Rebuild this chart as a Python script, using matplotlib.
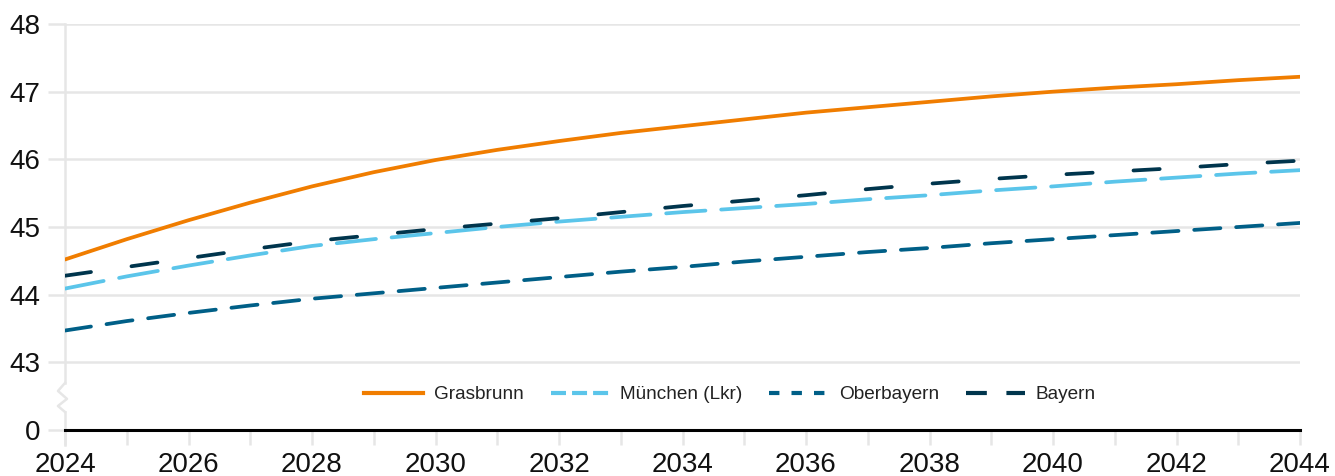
import matplotlib
matplotlib.use("Agg")
import matplotlib.pyplot as plt
from matplotlib.lines import Line2D
import numpy as np

years = list(range(2024, 2045))
grasbrunn = [44.52, 44.82, 45.10, 45.36, 45.60, 45.81, 45.99, 46.14, 46.27, 46.39, 46.49,
             46.59, 46.69, 46.77, 46.85, 46.93, 47.00, 47.06, 47.11, 47.17, 47.22]
muenchen = [44.09, 44.27, 44.43, 44.58, 44.72, 44.82, 44.91, 45.00, 45.08, 45.15, 45.22,
            45.28, 45.34, 45.41, 45.47, 45.54, 45.60, 45.67, 45.73, 45.79, 45.84]
oberbayern = [43.47, 43.61, 43.73, 43.84, 43.94, 44.02, 44.10, 44.18, 44.26, 44.34, 44.41,
              44.49, 44.56, 44.63, 44.69, 44.76, 44.82, 44.88, 44.94, 45.00, 45.06]
bayern = [44.28, 44.41, 44.54, 44.67, 44.79, 44.88, 44.97, 45.05, 45.13, 45.22, 45.31,
          45.39, 45.47, 45.56, 45.64, 45.71, 45.77, 45.82, 45.87, 45.93, 45.98]
series_names = ["Grasbrunn", "München (Lkr)", "Oberbayern", "Bayern"]
y_ticks = [42, 43, 44, 45, 46, 47, 48]
y_ticklabels = ["0", "43", "44", "45", "46", "47", "48"]
x_ticklabels_years = list(range(2024, 2045, 2))

colors = ["#F07D00", "#5BC5EA", "#005F87", "#00354D"]
font = "Liberation Sans"
plt.rcParams['font.family'] = [font, 'DejaVu Sans']

fig = plt.figure(figsize=(13.35, 4.76), dpi=100)
ax = fig.add_axes([65/1335, 1-430/476, (1300-65)/1335, (430-24)/476])
ax.set_xlim(2024, 2044)
ax.set_ylim(42, 48)

lw = 2.7
ax.plot(years, grasbrunn, color=colors[0], lw=lw, solid_capstyle='round', zorder=5)
ax.plot(years, muenchen, color=colors[1], lw=lw, dashes=(10.5, 4.2), dash_capstyle='round', zorder=4)
ax.plot(years, oberbayern, color=colors[2], lw=lw, dashes=(7, 4.2), dash_capstyle='round', zorder=4)
ax.plot(years, bayern, color=colors[3], lw=lw, dashes=(7, 10.9), dash_capstyle='round', zorder=4)

grid_c = "#E6E6E6"
for s in ax.spines.values():
    s.set_visible(False)
ax.set_yticks(y_ticks)
ax.set_yticklabels(y_ticklabels)
for yv in y_ticks[1:]:
    ax.axhline(yv, color=grid_c, lw=1.8, zorder=1)
ax.axhline(42, color="black", lw=2.2, zorder=6, clip_on=False)
ax.tick_params(axis='y', length=12.2, width=1.8, color=grid_c, labelsize=20, pad=5.5, labelcolor="#111111")

ax.set_xticks(years, minor=True)
ax.set_xticks(x_ticklabels_years)
ax.set_xticklabels([str(y) for y in x_ticklabels_years])
ax.tick_params(axis='x', which='both', length=10.8, width=1.8, color=grid_c, labelsize=20, pad=5, labelcolor="#111111")

# left axis line with break
trans = ax.get_yaxis_transform()
ax.plot([0, 0], [42.695, 48], color=grid_c, lw=1.8, transform=trans, clip_on=False, zorder=2)
ax.plot([0, 0], [41.78, 42.266], color=grid_c, lw=1.8, transform=trans, clip_on=False, zorder=2)
# zigzag
zx = np.array([0, -0.0057, 0.0016, -0.0057, 0])
zy = np.array([42.695, 42.577, 42.46, 42.355, 42.266])
ax.plot(zx, zy, color=grid_c, lw=1.8, transform=trans, clip_on=False, zorder=2)

# legend
handles = [
    Line2D([], [], color=colors[0], lw=3),
    Line2D([], [], color=colors[1], lw=3, dashes=(3.6, 1.45), dash_capstyle='butt'),
    Line2D([], [], color=colors[2], lw=3, dashes=(2.5, 2.9), dash_capstyle='butt'),
    Line2D([], [], color=colors[3], lw=3, dashes=(5, 4.7), dash_capstyle='butt'),
]
leg = ax.legend(handles, series_names, loc='center', bbox_to_anchor=(0.5385, 0.087), ncol=4,
                frameon=False, fontsize=13.7, handlelength=3.1, handletextpad=0.56, columnspacing=1.42)
for t in leg.get_texts():
    t.set_color("#222222")

fig.savefig("out.png", dpi=100)
